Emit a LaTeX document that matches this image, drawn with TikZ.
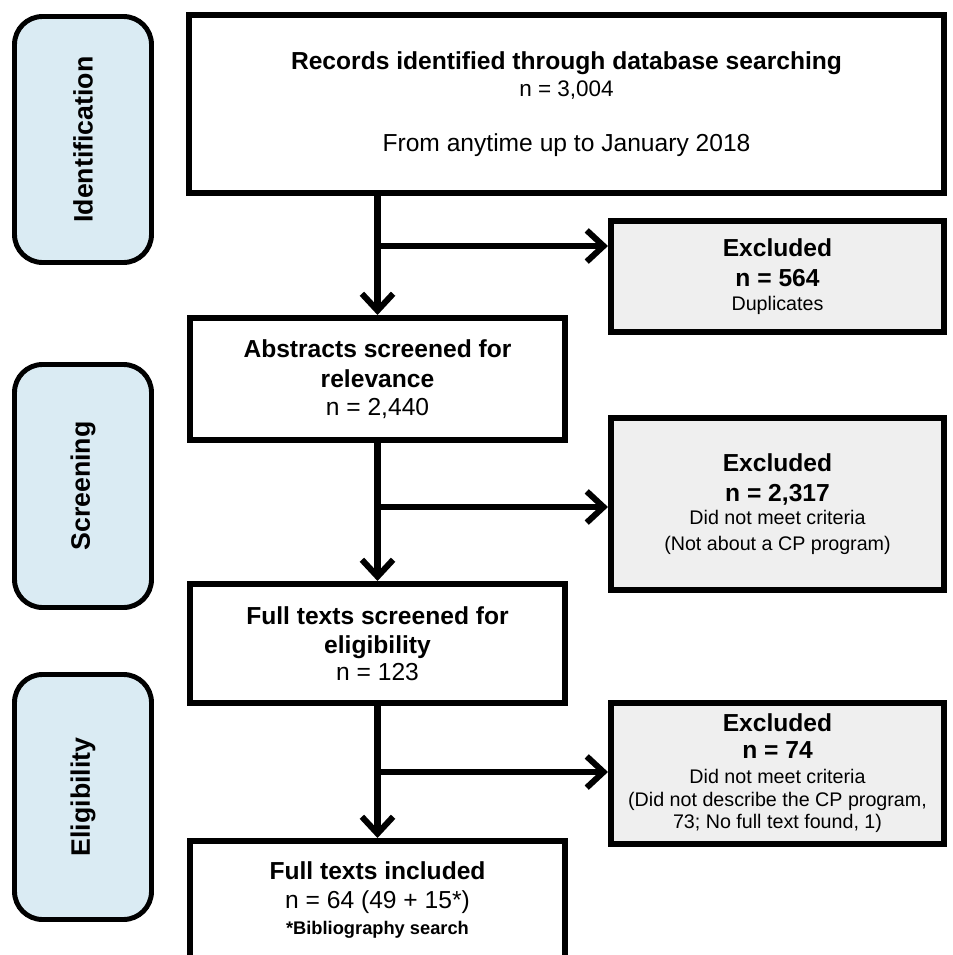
\documentclass[tikz,border=0pt]{standalone}
\usepackage{fontspec}
\setmainfont{Liberation Sans}
\usetikzlibrary{arrows.meta, positioning}
\definecolor{stagefill}{RGB}{218,235,243}
\definecolor{exfill}{RGB}{239,239,239}
\newcommand{\hdsz}{\fontsize{17.5}{21}\selectfont}
\newcommand{\smsz}{\fontsize{14}{17}\selectfont}
\newcommand{\stsz}{\fontsize{19}{23}\selectfont}

\begin{document}
\begin{tikzpicture}[
  stage/.style={draw, line width=3.5pt, fill=stagefill, rounded corners=0.7cm, rotate=90,
    minimum height=3.425cm, inner sep=0pt, font=\stsz\bfseries},
  mainbox/.style={draw, line width=4.3pt, fill=white, minimum width=9.375cm, inner sep=0pt,
    align=center, font=\hdsz},
  exbox/.style={draw, line width=4.3pt, fill=exfill, minimum width=8.325cm, inner sep=0pt,
    align=center, font=\hdsz},
  flow/.style={line width=4.3pt, -{Straight Barb[length=0.42cm, width=0.78cm]}}
]
\useasboundingbox (0,0) rectangle (23.8,-23.875);
\clip (0,0) rectangle (23.8,-23.875);

\node[stage, minimum width=6.15cm] (ident) at (2.075,-3.4875) {Identification};
\node[stage, minimum width=6.075cm] (scrn) at (2.075,-12.15) {Screening};
\node[stage, minimum width=6.125cm] (elig) at (2.075,-19.925) {Eligibility};

\node[mainbox, minimum width=18.875cm, minimum height=4.45cm] (rec) at (14.1625,-2.6)
  {\textbf{Records identified through database searching}\\[-2pt]
   {\fontsize{16}{19}\selectfont n = 3,004}\\[18pt]
   From anytime up to January 2018};
\node[mainbox, minimum height=3.05cm] (abs) at (9.4375,-9.475)
  {\textbf{Abstracts screened for}\\ \textbf{relevance}\\[-1pt] n = 2,440};
\node[mainbox, minimum height=2.975cm] (ful) at (9.4375,-16.0875)
  {\textbf{Full texts screened for}\\[-0.5pt] \textbf{eligibility}\\[-2pt] n = 123};
\node[mainbox, minimum height=2.95cm] (inc) at (9.4375,-22.5)
  {\textbf{Full texts included}\\[-0.5pt] n = 64 (49 + 15*)\\[-3pt]
   {\fontsize{13}{16}\selectfont\bfseries *Bibliography search}};

\node[exbox, minimum height=2.775cm] (ex1) at (19.4375,-6.9125)
  {\textbf{Excluded}\\ \textbf{n = 564}\\[-4pt] {\smsz Duplicates}};
\node[exbox, minimum height=4.3cm] (ex2) at (19.4375,-12.6)
  {\textbf{Excluded}\\ \textbf{n = 2,317}\\[-4.5pt] {\smsz Did not meet criteria}\\[-2.5pt]
   {\smsz (Not about a CP program)}};
\node[exbox, minimum height=3.525cm] (ex3) at (19.4375,-19.3375)
  {\textbf{Excluded}\\[-2pt] \textbf{n = 74}\\[-3pt] {\smsz Did not meet criteria}\\[-5pt]
   {\smsz (Did not describe the CP program,}\\[-5pt] {\smsz 73; No full text found, 1)}};

\coordinate (br1) at (9.4375,-6.15);
\coordinate (br2) at (9.4375,-12.675);
\coordinate (br3) at (9.4375,-19.3);

\draw[flow] (abs.north |- rec.south) -- (abs.north);
\draw[flow] (abs.south) -- (ful.north);
\draw[flow] (ful.south) -- (inc.north);
\draw[flow] (br1) -- (br1 -| ex1.west);
\draw[flow] (br2) -- (br2 -| ex2.west);
\draw[flow] (br3) -- (br3 -| ex3.west);

\end{tikzpicture}
\end{document}
